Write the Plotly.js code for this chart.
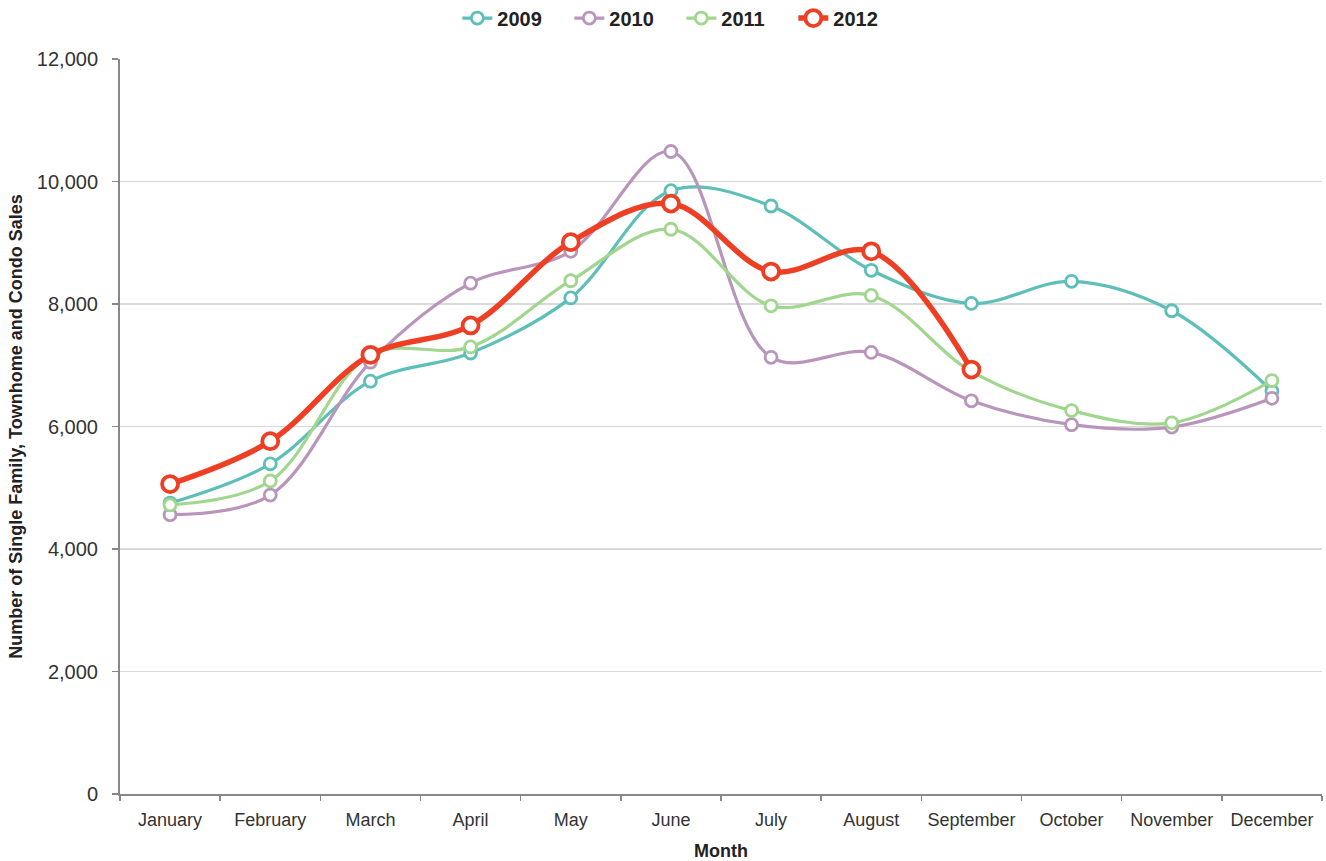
<!DOCTYPE html>
<html>
<head>
<meta charset="utf-8">
<script src="https://cdn.plot.ly/plotly-3.0.1.min.js"></script>
<style>html,body{margin:0;padding:0;background:#fff;}#chart{width:1326px;height:861px;}</style>
</head>
<body>
<div id="chart"></div>
<script>
const months = ["January","February","March","April","May","June","July","August","September","October","November","December"];
const sales2009 = [4750, 5390, 6740, 7200, 8100, 9850, 9600, 8550, 8010, 8370, 7890, 6580];
const sales2010 = [4560, 4880, 7050, 8340, 8860, 10490, 7130, 7210, 6420, 6030, 5990, 6460];
const sales2011 = [4720, 5110, 7170, 7300, 8380, 9220, 7970, 8140, 6900, 6260, 6060, 6750];
const sales2012 = [5060, 5760, 7170, 7650, 9010, 9640, 8530, 8860, 6930];

const colors = {"2009":"#5dbfb8","2010":"#b995bb","2011":"#a0d68e","2012":"#ee3e23"};

function thin(name, y){
  return {
    x: months.slice(0, y.length), y: y, name: name, type: "scatter", mode: "lines+markers",
    line: {color: colors[name], width: 3.2, shape: "spline", smoothing: 1},
    marker: {symbol: "circle", size: 12, color: "#ffffff", line: {color: colors[name], width: 2.8}}
  };
}
const traces = [thin("2009", sales2009), thin("2010", sales2010), thin("2011", sales2011),
  {
    x: months.slice(0, sales2012.length), y: sales2012, name: "2012", type: "scatter", mode: "lines+markers",
    line: {color: colors["2012"], width: 5.5, shape: "spline", smoothing: 1},
    marker: {symbol: "circle", size: 16, color: "#ffffff", line: {color: colors["2012"], width: 3.8}}
  }
];

const layout = {
  width: 1326, height: 861,
  margin: {l: 120, r: 4, t: 59, b: 67, autoexpand: false},
  paper_bgcolor: "#fff", plot_bgcolor: "#fff",
  font: {family: "Liberation Sans, Arial, sans-serif", size: 19, color: "#333"},
  showlegend: true,
  legend: {orientation: "h", x: 0.467, xanchor: "center", xref: "paper", y: 0.979, yanchor: "middle",
    yref: "container", font: {size: 20, color: "#222", family: "Liberation Sans, Arial, sans-serif", weight: "bold"},
    entrywidth: 67, entrywidthmode: "pixels", tracegroupgap: 0},
  xaxis: {
    type: "category", range: [-0.5, 11.5], showgrid: false, zeroline: false,
    showline: true, linecolor: "#888", linewidth: 2,
    ticks: "outside", tickson: "boundaries", ticklen: 5, tickcolor: "#888", tickwidth: 1.5,
    ticklabelstandoff: 8, tickangle: 0,
    tickfont: {size: 18, color: "#333"},
    title: {text: "<b>Month</b>", font: {size: 18, color: "#222"}, standoff: 16}
  },
  yaxis: {
    range: [0, 12000], tickvals: [0,2000,4000,6000,8000,10000,12000],
    tickformat: ",d", showgrid: true, gridcolor: "#d9d9d9", gridwidth: 1.2, zeroline: false,
    showline: true, linecolor: "#888", linewidth: 2,
    ticks: "outside", ticklen: 6, tickcolor: "#888", tickwidth: 1.5,
    ticklabelstandoff: 10,
    tickfont: {size: 20, color: "#333"},
    title: {text: "<b>Number of Single Family, Townhome and Condo Sales</b>", font: {size: 18, color: "#222"}, standoff: 10}
  }
};
Plotly.newPlot("chart", traces, layout, {displayModeBar: false, staticPlot: true});
</script>
</body>
</html>
